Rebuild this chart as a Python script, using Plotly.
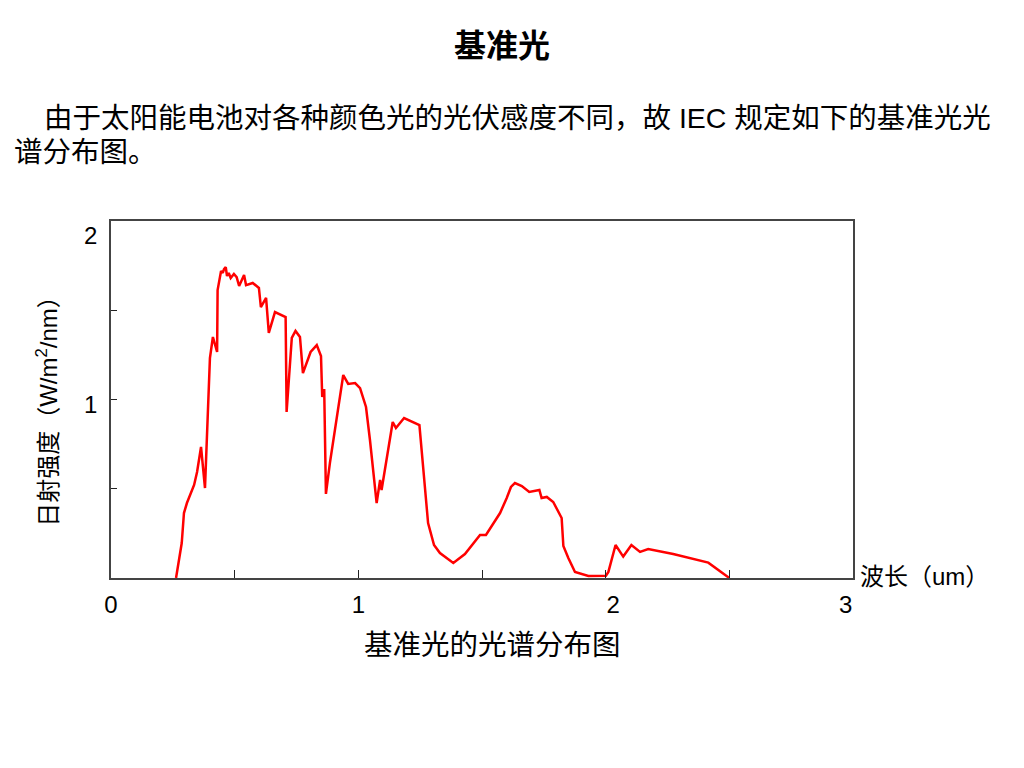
import plotly.graph_objects as go

# Wavelength (um) and irradiance (W/m2/nm)
wavelength = [0.263, 0.286, 0.295, 0.307, 0.336, 0.348, 0.364, 0.380, 0.400, 0.412,
              0.429, 0.431, 0.445, 0.452, 0.457, 0.464, 0.469, 0.476, 0.484, 0.497,
              0.508, 0.518, 0.538, 0.546, 0.573, 0.589, 0.598, 0.606, 0.627, 0.638,
              0.663, 0.706, 0.710, 0.731, 0.746, 0.764, 0.776, 0.807, 0.832, 0.849,
              0.854, 0.862, 0.869, 0.885, 0.918, 0.939, 0.959, 0.987, 1.007, 1.031,
              1.047, 1.074, 1.088, 1.094, 1.139, 1.152, 1.185, 1.247, 1.282, 1.306,
              1.330, 1.384, 1.431, 1.492, 1.516, 1.573, 1.600, 1.617, 1.633, 1.661,
              1.691, 1.732, 1.741, 1.762, 1.788, 1.822, 1.829, 1.849, 1.876, 1.930,
              2.001, 2.011, 2.040, 2.071, 2.104, 2.139, 2.172, 2.273, 2.415, 2.500]
irradiance = [0.000, 0.196, 0.364, 0.420, 0.521, 0.594, 0.734, 0.504, 1.232, 1.350,
              1.266, 1.613, 1.720, 1.709, 1.731, 1.742, 1.692, 1.709, 1.681, 1.703,
              1.686, 1.636, 1.697, 1.641, 1.653, 1.636, 1.625, 1.518, 1.569, 1.373,
              1.490, 1.462, 0.930, 1.345, 1.384, 1.350, 1.148, 1.266, 1.305, 1.244,
              1.014, 1.059, 0.471, 0.644, 0.952, 1.137, 1.087, 1.092, 1.064, 0.958,
              0.773, 0.420, 0.549, 0.493, 0.874, 0.840, 0.896, 0.857, 0.308, 0.185,
              0.140, 0.084, 0.134, 0.241, 0.241, 0.364, 0.448, 0.510, 0.532, 0.515,
              0.482, 0.493, 0.448, 0.454, 0.426, 0.336, 0.179, 0.112, 0.034, 0.011,
              0.013, 0.034, 0.185, 0.120, 0.185, 0.146, 0.162, 0.134, 0.086, 0.000]

x_tick_pos = [0, 1, 2.03, 2.97]
x_tick_text = ["0", "1", "2", "3"]
x_minor_ticks = [0.5, 1.0, 1.5, 2.0, 2.5]
y_tick_pos = [0.97, 1.92]
y_tick_text = ["1", "2"]
y_minor_ticks = [0.5, 1.0, 1.5]

FONT = "Liberation Sans, Arial, Noto Sans CJK SC"
CJK = "Liberation Sans, Noto Sans CJK SC"

fig = go.Figure()
fig.add_trace(go.Scatter(x=wavelength, y=irradiance, mode="lines",
                         line=dict(color="#ff0000", width=2.5),
                         showlegend=False, hoverinfo="x+y"))

axis_line = dict(showline=True, linecolor="#444444", linewidth=1.5, mirror=True,
                 showgrid=False, zeroline=False)

fig.update_layout(
    width=1008, height=752,
    margin=dict(l=103, r=163, t=213, b=182),
    paper_bgcolor="white", plot_bgcolor="white",
    font=dict(family=FONT, color="black"),
    xaxis=dict(range=[0, 3], tickmode="array", tickvals=x_tick_pos, ticktext=x_tick_text,
               ticks="", tickfont=dict(size=24, family=FONT), ticklabelstandoff=4,
               minor=dict(tickmode="array", tickvals=x_minor_ticks, ticks="inside",
                          ticklen=8, tickcolor="#222222", tickwidth=1.2, showgrid=False),
               **axis_line),
    yaxis=dict(range=[0, 2], tickmode="array", tickvals=y_tick_pos, ticktext=y_tick_text,
               ticks="", tickfont=dict(size=24, family=FONT), ticklabelstandoff=7,
               minor=dict(tickmode="array", tickvals=y_minor_ticks, ticks="inside",
                          ticklen=6, tickcolor="#222222", tickwidth=1.2, showgrid=False),
               **axis_line),
)

ann = [
    dict(text="<b>基准光</b>", x=0.527, y=1.49, xanchor="center", yanchor="middle",
         font=dict(size=32, family=CJK)),
    dict(text="由于太阳能电池对各种颜色光的光伏感度不同，故 IEC 规定如下的基准光光",
         x=-0.093, y=1.2885, xanchor="left", yanchor="middle", font=dict(size=28.5, family=CJK)),
    dict(text="谱分布图。", x=-0.1334, y=1.193, xanchor="left", yanchor="middle",
         font=dict(size=28.5, family=CJK)),
    dict(text="基准光的光谱分布图", x=0.5148, y=-0.1877, xanchor="center", yanchor="middle",
         font=dict(size=28.5, family=CJK)),
    dict(text="日射强度（W/m<sup>2</sup>/nm）", x=-0.0863, y=0.485, xanchor="center",
         yanchor="middle", textangle=-90, font=dict(size=24, family=CJK)),
    dict(text="波长（um）", x=1.0067, y=0.0056, xanchor="left", yanchor="middle",
         font=dict(size=24, family=CJK)),
]
for a in ann:
    a.update(xref="paper", yref="paper", showarrow=False)
fig.update_layout(annotations=ann)

fig.write_html("out.html")
